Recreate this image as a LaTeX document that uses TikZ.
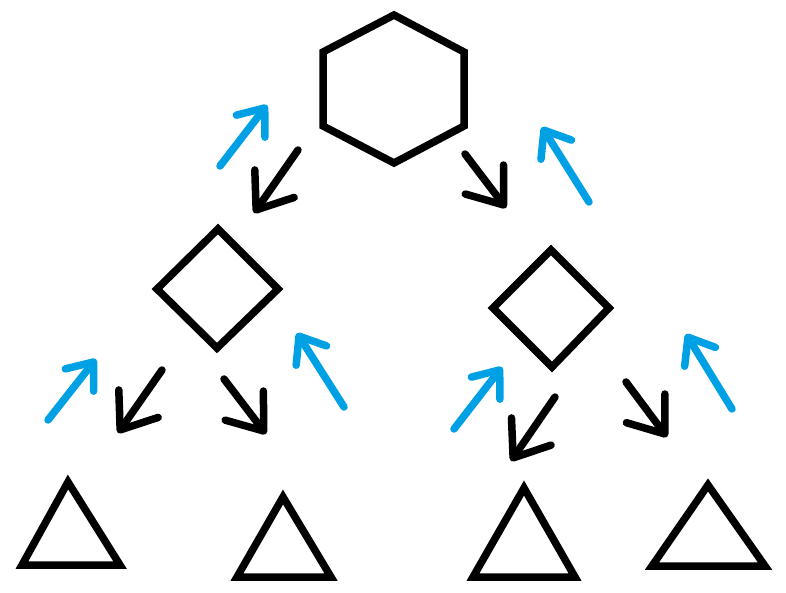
\documentclass[tikz,border=0pt]{standalone}
\usetikzlibrary{arrows.meta}
\definecolor{upblue}{RGB}{0,160,228}
\tikzset{
  shapeline/.style={draw=black, line width=7.5pt, line join=miter},
  downarrow/.style={draw=black, line width=7.5pt, line cap=round,
    -{Straight Barb[length=32pt,width=48pt,line cap=round,line join=round]}},
  uparrow/.style={draw=upblue, line width=7.5pt, line cap=round,
    -{Straight Barb[length=23pt,width=36pt,line cap=round,line join=round]}},
}
\begin{document}
\begin{tikzpicture}[x=1pt,y=-1pt]
\useasboundingbox (0,0) rectangle (786,593);
% hexagon
\coordinate (hx1) at (394,15);
\coordinate (hx2) at (464,52);
\coordinate (hx3) at (464,126);
\coordinate (hx4) at (394,163);
\coordinate (hx5) at (323,126);
\coordinate (hx6) at (323,52);
\draw[shapeline] (hx1) -- (hx2) -- (hx3) -- (hx4) -- (hx5) -- (hx6) -- cycle;
% left diamond
\coordinate (ld1) at (218,229);
\coordinate (ld2) at (278,289);
\coordinate (ld3) at (217,348);
\coordinate (ld4) at (157,289);
\draw[shapeline] (ld1) -- (ld2) -- (ld3) -- (ld4) -- cycle;
% right diamond
\coordinate (rd1) at (551,250);
\coordinate (rd2) at (609,308);
\coordinate (rd3) at (552,367);
\coordinate (rd4) at (493,308);
\draw[shapeline] (rd1) -- (rd2) -- (rd3) -- (rd4) -- cycle;
% triangles
\coordinate (t1a) at (68,482);
\coordinate (t1b) at (120,565);
\coordinate (t1c) at (22,565);
\draw[shapeline] (t1a) -- (t1b) -- (t1c) -- cycle;
\coordinate (t2a) at (283,497);
\coordinate (t2b) at (331,577);
\coordinate (t2c) at (237,577);
\draw[shapeline] (t2a) -- (t2b) -- (t2c) -- cycle;
\coordinate (t3a) at (524,488);
\coordinate (t3b) at (575,577);
\coordinate (t3c) at (473,577);
\draw[shapeline] (t3a) -- (t3b) -- (t3c) -- cycle;
\coordinate (t4a) at (708,485);
\coordinate (t4b) at (765,566);
\coordinate (t4c) at (652,566);
\draw[shapeline] (t4a) -- (t4b) -- (t4c) -- cycle;
% black arrows (down)
\coordinate (a1s) at (298,150);
\coordinate (a1e) at (254,213);
\coordinate (a2s) at (465,154);
\coordinate (a2e) at (506,208);
\coordinate (a3s) at (162,370);
\coordinate (a3e) at (118,433);
\coordinate (a4s) at (224,379);
\coordinate (a4e) at (266,434);
\coordinate (a5s) at (555,397);
\coordinate (a5e) at (511,461);
\coordinate (a6s) at (626,382);
\coordinate (a6e) at (667,437);
\draw[downarrow] (a1s) -- (a1e);
\draw[downarrow] (a2s) -- (a2e);
\draw[downarrow] (a3s) -- (a3e);
\draw[downarrow] (a4s) -- (a4e);
\draw[downarrow] (a5s) -- (a5e);
\draw[downarrow] (a6s) -- (a6e);
% blue arrows (up)
\coordinate (b1s) at (220,166);
\coordinate (b1e) at (267,105);
\coordinate (b2s) at (589,202);
\coordinate (b2e) at (542,127);
\coordinate (b3s) at (48,420);
\coordinate (b3e) at (96,359);
\coordinate (b4s) at (344,407);
\coordinate (b4e) at (297,333);
\coordinate (b5s) at (454,429);
\coordinate (b5e) at (502,367);
\coordinate (b6s) at (732,409);
\coordinate (b6e) at (686,334);
\draw[uparrow] (b1s) -- (b1e);
\draw[uparrow] (b2s) -- (b2e);
\draw[uparrow] (b3s) -- (b3e);
\draw[uparrow] (b4s) -- (b4e);
\draw[uparrow] (b5s) -- (b5e);
\draw[uparrow] (b6s) -- (b6e);
\end{tikzpicture}
\end{document}
